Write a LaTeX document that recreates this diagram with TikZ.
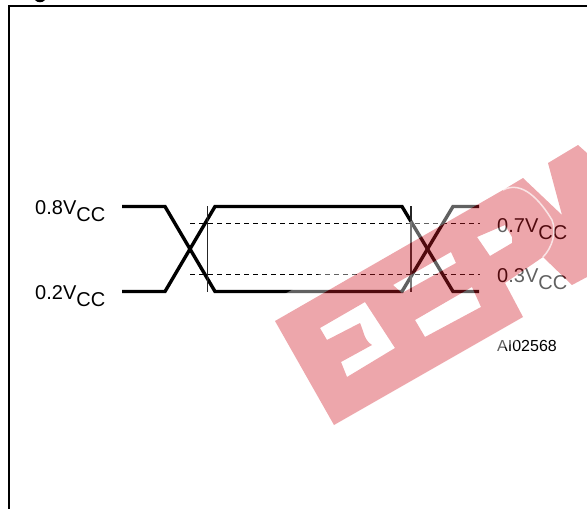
\documentclass[tikz,border=0pt]{standalone}
\usepackage{fontspec}
\setmainfont{Liberation Sans}
\newcommand{\vcc}[1]{#1V\raisebox{-7pt}{CC}}
\definecolor{wmred}{RGB}{208,26,38}

\begin{document}
\begin{tikzpicture}[
	x=1pt,y=-1pt,
	frameline/.style={line width=2.4pt,line cap=butt},
	waveline/.style={line width=3.4pt,line join=miter,line cap=butt},
	refline/.style={line width=1.1pt,dash pattern=on 4.5pt off 4.5pt},
	markline/.style={line width=1.4pt,black!85},
	vlabel/.style={anchor=base west,inner sep=0pt,font=\fontsize{20}{20}\selectfont},
	tag/.style={anchor=base west,inner sep=0pt,font=\fontsize{16}{16}\selectfont}
]
	\clip (0,0) rectangle (587,509);
	%% frame
	\coordinate (f1) at (9,509);
	\coordinate (f2) at (9,6);
	\coordinate (f3) at (587,6);
	\draw[frameline] (f1) -- (f2) -- (f3);
	\fill (35,0) .. controls (37,3) and (43,3) .. (45,0) -- cycle;
	%% waveform corners
	\coordinate (a1) at (122,206.5);
	\coordinate (a2) at (165,206.5);
	\coordinate (a3) at (215,291.5);
	\coordinate (a4) at (402,291.5);
	\coordinate (a5) at (453,206.5);
	\coordinate (a6) at (479,206.5);
	\coordinate (b1) at (122,291.5);
	\coordinate (b2) at (165,291.5);
	\coordinate (b3) at (215,206.5);
	\coordinate (b4) at (402,206.5);
	\coordinate (b5) at (453,291.5);
	\coordinate (b6) at (479,291.5);
	\draw[waveline] (a1) -- (a2) -- (a3) -- (a4) -- (a5) -- (a6);
	\draw[waveline] (b1) -- (b2) -- (b3) -- (b4) -- (b5) -- (b6);
	%% reference levels
	\coordinate (r1) at (190,223.5);
	\coordinate (r2) at (480,223.5);
	\coordinate (r3) at (190,274.5);
	\coordinate (r4) at (480,274.5);
	\draw[refline] (r1) -- (r2);
	\draw[refline] (r3) -- (r4);
	%% timing marks
	\coordinate (m1) at (207.5,206);
	\coordinate (m2) at (207.5,292);
	\coordinate (m3) at (411,206);
	\coordinate (m4) at (411,292);
	\draw[markline] (m1) -- (m2);
	\draw[markline] (m3) -- (m4);
	%% labels
	\node[vlabel] (l8) at (35,214) {\vcc{0.8}};
	\node[vlabel] (l2) at (35,299) {\vcc{0.2}};
	\node[vlabel] (l7) at (497,232) {\vcc{0.7}};
	\node[vlabel] (l3) at (497,282) {\vcc{0.3}};
	\node[tag] (code) at (497,351) {AI02568};
	%% stamp: pale ring and letter slots, then red
	\def\stampbody{(275,321) -- (334,425) -- (523,317) -- (505,283) -- (543,257) -- (572,285) -- (587,277)
		-- (587,153) -- (578,145) -- (548,163) -- (562,215) -- (523,178) -- (503,190) -- cycle}
	\def\stampslots{(320,328) -- (365,302) -- (395,348) -- (347,377) -- (341,362) -- (372,345)
		.. controls (364,340) and (364,332) .. (360,323) -- (327,340) -- cycle
		(415,320) -- (472,287) -- (481,307) -- (425,337) -- cycle
		(393,285) -- (451,252) -- (456,263) -- (402,293) -- cycle
		(477,237) -- (505,225) -- (512,237) -- (512,243) -- (490,256) -- cycle}
	\fill[white,opacity=.38,even odd rule] (250,314) -- (327,450) -- (587,300) -- (587,120) -- cycle
		\stampbody \stampslots;
	\fill[wmred,opacity=.39,even odd rule] \stampbody \stampslots;
	\draw[white,opacity=.7,line width=1.5pt] (503,190) .. controls (522,180) and (540,200) .. (552,220)
		.. controls (557,232) and (552,248) .. (543,257);
\end{tikzpicture}
\end{document}
